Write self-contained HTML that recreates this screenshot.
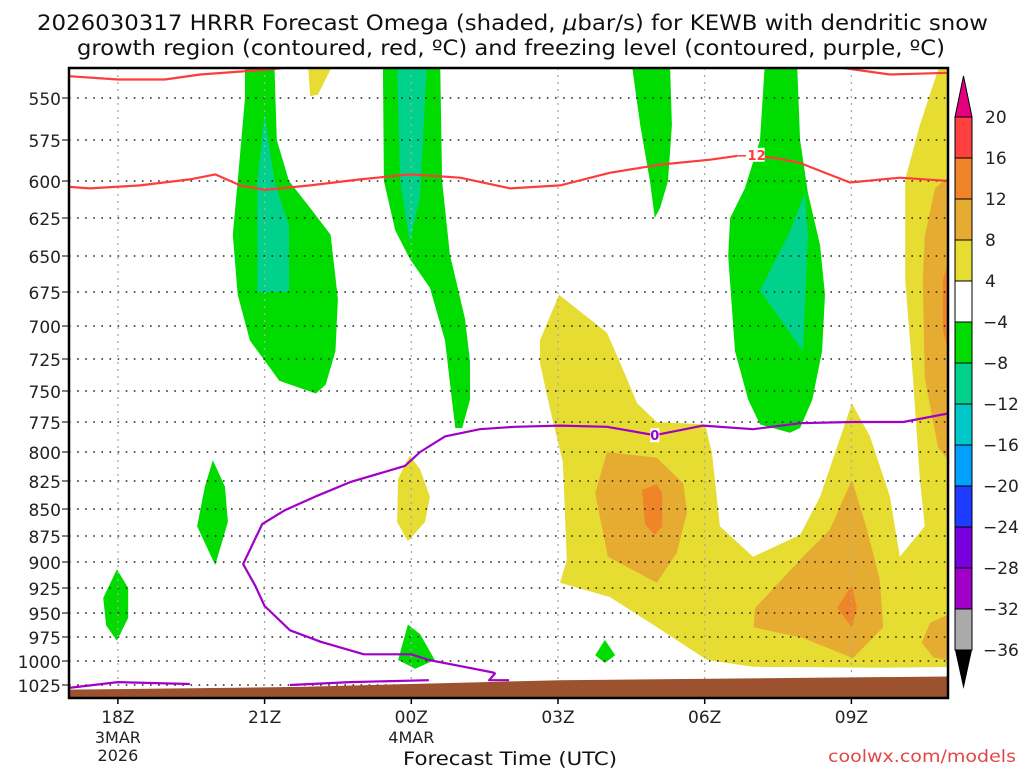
<!DOCTYPE html>
<html><head><meta charset="utf-8"><style>
html,body{margin:0;padding:0;background:#fff;}
svg{display:block;font-family:"DejaVu Sans","Liberation Sans",sans-serif;}
</style></head><body>
<svg id="chart" width="1024" height="768" viewBox="0 0 1024 768">
<defs><clipPath id="plotclip"><rect x="69" y="68" width="879" height="630"/></clipPath></defs>
<text x="37" y="30" font-size="21" fill="#111" textLength="951" lengthAdjust="spacingAndGlyphs">2026030317 HRRR Forecast Omega (shaded, <tspan font-style="italic">μ</tspan>bar/s) for KEWB with dendritic snow</text>
<text x="77" y="55" font-size="21" fill="#111" textLength="868" lengthAdjust="spacingAndGlyphs">growth region (contoured, red, ºC) and freezing level (contoured, purple, ºC)</text>
<g id="fills" clip-path="url(#plotclip)"></g>
<g id="grid"></g>
<g id="lines" clip-path="url(#plotclip)"></g>
<g id="axes"></g>
<g id="cbar"></g>
<text x="403" y="765" font-size="19" fill="#111" textLength="214" lengthAdjust="spacingAndGlyphs">Forecast Time (UTC)</text>
<text x="828" y="762" font-size="17" fill="#e04848" textLength="188" lengthAdjust="spacingAndGlyphs">coolwx.com/models</text>
</svg>
<script>
// axis definitions
const levels=[550,575,600,625,650,675,700,725,750,775,800,825,850,875,900,925,950,975,1000,1025];
const levelY=[98,140,181,218,256,292,326,359,391,422,452,481,509,536,562,588,613,637,661,685];
const timeTicks=[18,21,24,27,30,33];
const timeLabels=["18Z","21Z","00Z","03Z","06Z","09Z"];
const dateLabels=[["3MAR","2026"],[],["4MAR"],[],[],[]];
const cbarLevels=["20","16","12","8","4","\u22124","\u22128","\u221212","\u221216","\u221220","\u221224","\u221228","\u221232","\u221236"];
const cbarColors=["#ff4040","#f08428","#e6ac32","#e6dc32","#ffffff","#00dc00","#00d28c","#00c8c8","#00a0ff","#1e3cff","#7800dc","#a000c8","#aaaaaa"];
// shaded regions [hour, hPa]
const yellowMain=[[27.02,677],[28.0,705],[28.27,728],[28.62,760],[29.02,775],[30.01,777],[30.15,801],[30.31,866],[30.99,895],[31.95,874],[32.36,839],[33.01,760],[33.38,787],[33.79,839],[33.99,895],[34.5,866],[34.4,824],[34.26,740],[34.1,667],[34.1,599],[34.4,566],[34.81,530],[35.2,530],[35.2,1006],[33.73,1007],[30.99,1006],[30.05,999],[29.09,967],[28.06,934],[27.04,920],[27.18,898],[27.1,809],[26.84,765],[26.63,728],[26.63,711]];
const yellowTop=[[21.89,530],[21.93,549],[22.09,548],[22.4,530]];
const yellowMid=[[23.97,803],[23.73,823],[23.71,862],[23.93,880],[24.28,862],[24.38,839],[24.18,815]];
const goldA=[[28.0,800],[29.02,805],[29.56,827],[29.64,853],[29.43,891],[29.02,920],[28.02,895],[27.76,836]];
const goldB=[[33.01,824],[33.32,869],[33.58,917],[33.65,965],[33.03,997],[32.01,976],[31.0,965],[31.03,945],[32.01,895],[32.56,869]];
const goldRight=[[35.2,592],[34.71,605],[34.5,637],[34.46,667],[34.5,740],[34.77,796],[35.2,818]];
const goldLow=[[35.2,947],[34.61,960],[34.44,981],[34.67,996],[35.2,1002]];
const orangeA=[[28.72,833],[29.02,828],[29.13,836],[29.13,866],[28.98,874],[28.78,864]];
const orangeB=[[33.01,922],[33.11,945],[33.01,965],[32.71,945]];
const orangeRight=[[35.2,630],[34.87,667],[34.87,703],[35.2,749]];
const green1=[[20.6,530],[20.6,550],[20.45,600],[20.35,636],[20.45,677],[20.7,711],[21.3,742],[22.05,752],[22.25,745],[22.45,719],[22.5,680],[22.35,636],[21.95,619],[21.5,600],[21.25,575],[21.2,530]];
const green2=[[23.42,530],[23.44,600],[23.67,633],[23.97,652],[24.38,672],[24.69,711],[24.83,757],[24.9,780],[25.04,780],[25.2,757],[25.2,727],[25.1,695],[24.79,649],[24.63,600],[24.59,530]];
const green3=[[28.51,530],[28.68,566],[28.88,600],[28.98,625],[29.09,618],[29.25,600],[29.33,566],[29.29,530]];
const green4=[[31.23,530],[31.13,575],[30.82,605],[30.52,625],[30.48,650],[30.62,719],[30.89,757],[31.13,777],[31.74,784],[31.95,780],[32.2,757],[32.4,719],[32.46,677],[32.36,643],[32.11,608],[31.95,575],[31.89,530]];
const green5=[[19.94,807],[19.78,830],[19.62,866],[19.99,903],[20.25,862],[20.19,830]];
const green6=[[17.98,907],[17.7,935],[17.76,963],[17.98,979],[18.21,955],[18.21,925]];
const green7=[[23.93,962],[23.73,999],[24.08,1008],[24.48,999],[24.18,972]];
const green8=[[27.96,978],[27.76,994],[27.96,1002],[28.17,994]];
const teal1=[[21.0,560],[20.85,600],[20.85,675],[21.5,675],[21.5,630],[21.2,600]];
const teal2=[[23.71,530],[23.77,600],[23.97,641],[24.18,610],[24.32,530]];
const teal4=[[32.05,608],[32.11,637],[32.01,719],[31.13,674],[31.74,634]];
const ground=[[16.8,1030],[21.72,1027],[27.04,1020],[35.2,1016],[35.2,1045],[16.8,1045]];
// contour lines
const redUpperA=[[17,537],[18,539],[18.96,539],[19.68,536],[21.11,533],[21.72,531]];
const redUpperB=[[32.56,531],[33.79,536],[35,535]];
const redLower=[[17,604],[17.43,605],[18.45,603],[19.47,599],[19.99,596],[20.5,603],[21.0,606],[21.93,603],[22.95,599],[23.97,596],[25.0,598],[26.02,605],[27.04,603],[28.06,595],[29.09,590],[30.11,587],[30.82,584],[31.44,586],[31.95,589],[32.97,601],[33.99,598],[35,600]];
const purpleA=[[17,1028],[18,1022],[19.47,1024]];
const purpleB=[[21.52,1025],[22.75,1022],[24.36,1020]];
const purpleMain=[[26.0,1020],[25.59,1020],[25.71,1013],[25.67,1012],[25.08,1006],[24.36,999],[24.0,993],[23.03,993],[22.15,980],[21.52,968],[21.0,943],[20.8,922],[20.56,902],[20.95,864],[21.42,851],[22.03,839],[22.75,826],[23.87,812],[24.18,800],[24.69,787],[25.4,781],[26.12,779],[27.04,778],[28.0,779],[28.98,786],[29.97,778],[30.99,781],[31.95,776],[33.01,775],[34.06,775],[35,768]];
const redLabel=[30.95,584,"\u221212"];
const purpleLabel=[28.98,786,"0"];

const NS="http://www.w3.org/2000/svg";
function X(h){return 69+(h-17)*48.9;}
function Y(p){
  if(p<=levels[0]) return levelY[0]+(p-levels[0])*(levelY[1]-levelY[0])/25;
  for(let i=0;i<levels.length-1;i++){
    if(p<=levels[i+1]) return levelY[i]+(p-levels[i])/(levels[i+1]-levels[i])*(levelY[i+1]-levelY[i]);
  }
  const n=levels.length-1;
  return levelY[n]+(p-levels[n])*(levelY[n]-levelY[n-1])/25;
}
function mk(tag,attrs,parent){const e=document.createElementNS(NS,tag);for(const k in attrs)e.setAttribute(k,attrs[k]);parent.appendChild(e);return e;}
function pts(arr){return arr.map(d=>X(d[0]).toFixed(1)+","+Y(d[1]).toFixed(1)).join(" ");}
const fills=document.getElementById('fills');
function poly(arr,color,name){
  const e=mk('polygon',{points:pts(arr),fill:color},fills);
  
  
}
poly(yellowMain,"#e6dc32","omega-4-8-main");
poly(yellowTop,"#e6dc32","omega-4-8-top");
poly(yellowMid,"#e6dc32","omega-4-8-mid");
poly(goldA,"#e6ac32","omega-8-12-a");
poly(goldB,"#e6ac32","omega-8-12-b");
poly(goldRight,"#e6ac32","omega-8-12-right");
poly(goldLow,"#e6ac32","omega-8-12-low");
poly(orangeA,"#f08428","omega-12-16-a");
poly(orangeB,"#f08428","omega-12-16-b");
poly(orangeRight,"#f08428","omega-12-16-right");
poly(green1,"#00dc00","omega-neg4-8-a");
poly(green2,"#00dc00","omega-neg4-8-b");
poly(green3,"#00dc00","omega-neg4-8-c");
poly(green4,"#00dc00","omega-neg4-8-d");
poly(green5,"#00dc00","omega-neg4-8-e");
poly(green6,"#00dc00","omega-neg4-8-f");
poly(green7,"#00dc00","omega-neg4-8-g");
poly(green8,"#00dc00","omega-neg4-8-h");
poly(teal1,"#00d28c","omega-neg8-12-a");
poly(teal2,"#00d28c","omega-neg8-12-b");
poly(teal4,"#00d28c","omega-neg8-12-c");

// grid
const grid=document.getElementById('grid');
levels.forEach(p=>{
  const l=mk('line',{x1:69,x2:948,y1:Y(p),y2:Y(p),stroke:"#222","stroke-width":1.6,"stroke-dasharray":"1.6,6.5"},grid);
  
  
});
timeTicks.forEach(h=>{
  const l=mk('line',{x1:X(h),x2:X(h),y1:68,y2:698,stroke:"#aaa","stroke-width":1.3,"stroke-dasharray":"2,5"},grid);
  
  
});

// ground over grid
const lines=document.getElementById('lines');
const g=mk('polygon',{points:pts(ground),fill:"#9c522e"},lines);


function pl(arr,color,name){
  const e=mk('polyline',{points:pts(arr),fill:"none",stroke:color,"stroke-width":2.2,"stroke-linejoin":"round"},lines);
  
  
}
pl(redUpperA,"#ff3c3c","dgz-contour-upper-a");
pl(redUpperB,"#ff3c3c","dgz-contour-upper-b");
pl(redLower,"#ff3c3c","dgz-contour-lower");
pl(purpleA,"#a000c8","freezing-level-a");
pl(purpleB,"#a000c8","freezing-level-b");
pl(purpleMain,"#a000c8","freezing-level-main");
function lab(d,color,name){
  const x=X(d[0]),y=Y(d[1]);
  const r=mk('rect',{x:x-(d[2].length*4.5),y:y-7,width:d[2].length*9,height:14,fill:"#fff"},lines);
  
  
  const t=mk('text',{x:x,y:y+5,"text-anchor":"middle","font-size":13,"font-weight":"bold",fill:color},lines);
  t.textContent=d[2];
  
  
}
lab(redLabel,"#ff3c3c","dgz-label");
lab(purpleLabel,"#a000c8","freezing-label");

// axes
const axes=document.getElementById('axes');
const frame=mk('rect',{x:69,y:68,width:879,height:630,fill:"none",stroke:"#000","stroke-width":2.5},axes);


levels.forEach((p,i)=>{
  const t=mk('text',{x:61,y:Y(p)+7,"text-anchor":"end","font-size":17,fill:"#222"},axes);
  t.textContent=p;
  
  
  const tk=mk('line',{x1:62,x2:69,y1:Y(p),y2:Y(p),stroke:"#000","stroke-width":1},axes);
  
  
});
timeTicks.forEach((h,i)=>{
  const tk=mk('line',{x1:X(h),x2:X(h),y1:698,y2:704,stroke:"#000","stroke-width":1.5},axes);
  
  
  const t=mk('text',{x:X(h),y:723,"text-anchor":"middle","font-size":17,fill:"#222"},axes);
  t.textContent=timeLabels[i];
  
  
  dateLabels[i].forEach((s,j)=>{
    const d=mk('text',{x:X(h),y:743+j*18,"text-anchor":"middle","font-size":16,fill:"#222"},axes);
    d.textContent=s;
    
    
  });
});

// colorbar
const cb=document.getElementById('cbar');
const cx=955,cw=17,top0=117,step=41;
const up=mk('polygon',{points:`${cx},${top0} ${cx+cw},${top0} ${cx+cw/2},76`,fill:"#e6007f",stroke:"#000","stroke-width":1},cb);


cbarColors.forEach((c,i)=>{
  const r=mk('rect',{x:cx,y:top0+i*step,width:cw,height:step,fill:c,stroke:"#000","stroke-width":1},cb);
  
  
});
const bot=top0+cbarColors.length*step;
const dn=mk('polygon',{points:`${cx},${bot} ${cx+cw},${bot} ${cx+cw/2},689`,fill:"#000"},cb);


cbarLevels.forEach((s,i)=>{
  const t=mk('text',{x:s.startsWith("\u2212")?983:985,y:top0+i*step+6,"font-size":17,fill:"#222"},cb);
  t.textContent=s;
  
  
});
</script>
</body></html>
